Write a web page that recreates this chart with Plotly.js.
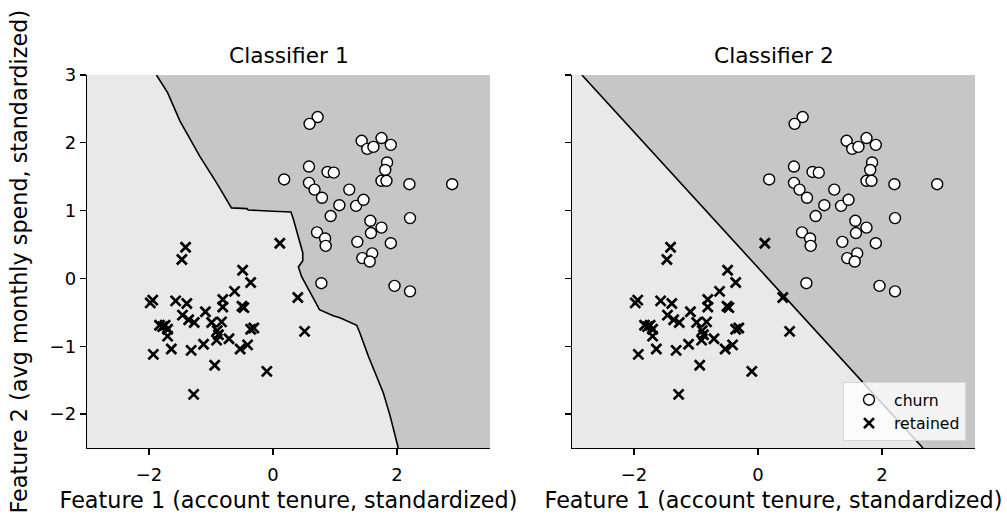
<!DOCTYPE html>
<html>
<head>
<meta charset="utf-8">
<script src="https://cdn.plot.ly/plotly-3.0.1.min.js"></script>
<style>
  html, body { margin: 0; padding: 0; background: #ffffff; }
  #chart { width: 1007px; height: 515px; }
</style>
</head>
<body>
<div id="chart"></div>
<script>
// ---- data ----
const churnX = [0.72, 0.59, 1.43, 1.75, 1.52, 1.62, 1.90, 1.84, 1.81, 1.75, 1.83, 0.58, 0.88, 0.98,
  0.18, 0.58, 0.67, 0.79, 1.23, 1.07, 1.34, 1.46, 2.20, 2.89, 0.93, 1.57, 1.75, 1.58, 2.21, 0.71,
  0.84, 0.85, 1.36, 1.90, 1.44, 1.60, 1.56, 0.78, 1.96, 2.21];
const churnY = [2.38, 2.28, 2.03, 2.07, 1.91, 1.94, 1.97, 1.71, 1.60, 1.44, 1.44, 1.65, 1.57, 1.56,
  1.46, 1.41, 1.31, 1.19, 1.31, 1.08, 1.07, 1.16, 1.39, 1.39, 0.92, 0.85, 0.75, 0.67, 0.89, 0.68,
  0.59, 0.48, 0.54, 0.52, 0.30, 0.37, 0.25, -0.07, -0.11, -0.19];

const retainedX = [-1.41, -1.47, 0.11, -0.49, -0.36, -0.62, 0.40, -1.98, -1.94, -1.57, -1.39, -0.81,
  -0.81, -0.50, -0.47, -1.09, -1.46, -1.36, -1.27, -0.99, -0.83, -1.83, -1.74, -1.70, -1.70, -0.90,
  -0.91, -0.71, -0.36, -0.31, 0.51, -1.64, -1.32, -1.12, -0.53, -0.41, -1.93, -0.94, -0.10, -1.28,
  -0.88, -1.78];
const retainedY = [0.46, 0.28, 0.52, 0.12, -0.06, -0.19, -0.28, -0.36, -0.32, -0.33, -0.37, -0.31,
  -0.42, -0.41, -0.43, -0.49, -0.54, -0.61, -0.65, -0.65, -0.64, -0.69, -0.69, -0.75, -0.85, -0.77,
  -0.91, -0.89, -0.75, -0.73, -0.78, -1.04, -1.06, -0.97, -1.04, -0.98, -1.12, -1.28, -1.37, -1.71,
  -0.83, -0.71];

// decision boundary of classifier 1
const boundary1X = [-1.88, -1.70, -1.50, -1.18, -0.91, -0.67, -0.42, -0.40, 0.00, 0.29, 0.33, 0.41,
  0.48, 0.48, 0.41, 0.46, 0.60, 0.75, 0.97, 1.08, 1.35, 1.40, 1.54, 1.67, 1.78, 1.89, 2.02];
const boundary1Y = [3.00, 2.74, 2.32, 1.80, 1.41, 1.04, 1.03, 1.01, 0.99, 0.98, 0.87, 0.62,
  0.38, 0.26, 0.17, 0.03, -0.21, -0.46, -0.55, -0.58, -0.69, -0.80, -1.15, -1.44, -1.69, -2.03, -2.50];

// decision boundary of classifier 2 (linear)
const boundary2X = [-2.84, 2.66];
const boundary2Y = [3.00, -2.50];

const xRange = [-3, 3.5];
const yRange = [-2.5, 3];
const titles = ['Classifier 1', 'Classifier 2'];
const xTitle = 'Feature 1 (account tenure, standardized)';
const yTitle = 'Feature 2 (avg monthly spend, standardized)';

// ---- styles ----
const LIGHT = 'rgb(233,233,233)';
const DARK = 'rgb(198,198,198)';
const FONT = 'DejaVu Sans, sans-serif';

function regionTraces(bx, by, xa, ya) {
  const px = bx.concat([xRange[1], xRange[1]]);
  const py = by.concat([yRange[0], yRange[1]]);
  return [
    { type: 'scatter', mode: 'lines', x: px, y: py, fill: 'toself', fillcolor: DARK,
      line: { width: 0, color: DARK }, hoverinfo: 'skip', showlegend: false, xaxis: xa, yaxis: ya },
    { type: 'scatter', mode: 'lines', x: bx, y: by, line: { color: 'black', width: 1.6 },
      hoverinfo: 'skip', showlegend: false, xaxis: xa, yaxis: ya }
  ];
}

function pointTraces(xa, ya, legend) {
  return [
    { type: 'scatter', mode: 'markers', name: 'churn', x: churnX, y: churnY, xaxis: xa, yaxis: ya,
      showlegend: legend,
      marker: { symbol: 'circle', size: 11, color: 'white', line: { color: 'black', width: 1.4 } } },
    { type: 'scatter', mode: 'markers', name: 'retained', x: retainedX, y: retainedY, xaxis: xa, yaxis: ya,
      showlegend: legend,
      marker: { symbol: 'x-thin', size: 10, color: 'black', line: { color: 'black', width: 2.7 } } }
  ];
}

const data = [].concat(
  regionTraces(boundary1X, boundary1Y, 'x', 'y'),
  regionTraces(boundary2X, boundary2Y, 'x2', 'y2'),
  pointTraces('x', 'y', false),
  pointTraces('x2', 'y2', true)
);

const W = 1007, H = 515;
const yDom = [(H - 448) / H, (H - 75) / H];

function xAxis(domain) {
  return {
    domain: domain, range: xRange, showgrid: false, zeroline: false,
    showline: true, linecolor: 'black', linewidth: 1.3, mirror: false,
    ticks: 'outside', ticklen: 6, tickwidth: 1.3, tickcolor: 'black', ticklabelstandoff: 4,
    tickvals: [-2, 0, 2], ticktext: ['\u22122', '0', '2'],
    tickfont: { family: FONT, size: 18, color: 'black' },
    title: { text: xTitle, font: { family: FONT, size: 22.3, color: 'black' }, standoff: 8 }
  };
}
function yAxis(anchor, labels) {
  return {
    domain: yDom, range: yRange, anchor: anchor, showgrid: false, zeroline: false,
    showline: true, linecolor: 'black', linewidth: 1.3, mirror: false,
    ticks: 'outside', ticklen: 6, tickwidth: 1.3, tickcolor: 'black',
    tickvals: [-2, -1, 0, 1, 2, 3], ticktext: ['\u22122', '\u22121', '0', '1', '2', '3'],
    showticklabels: labels,
    tickfont: { family: FONT, size: 18, color: 'black' }
  };
}

const annotations = titles.map((t, i) => ({
  text: t, xref: (i === 0 ? 'x' : 'x2') + ' domain', yref: 'paper',
  x: 0.5, y: yDom[1], xanchor: 'center', yanchor: 'bottom', yshift: 5,
  showarrow: false, font: { family: FONT, size: 21.7, color: 'black' }
}));
annotations.push({
  text: yTitle, xref: 'paper', yref: 'paper', x: 18 / W, y: (yDom[0] + yDom[1]) / 2,
  xanchor: 'center', yanchor: 'middle', textangle: -90, showarrow: false,
  font: { family: FONT, size: 22.3, color: 'black' }
});

const layout = {
  width: W, height: H,
  margin: { l: 0, r: 0, t: 0, b: 0 },
  paper_bgcolor: 'white',
  plot_bgcolor: LIGHT,
  font: { family: FONT, color: 'black' },
  xaxis: xAxis([87 / W, 490 / W]),
  yaxis: yAxis('x', true),
  xaxis2: Object.assign(xAxis([572 / W, 975 / W]), { anchor: 'y2' }),
  yaxis2: yAxis('x2', false),
  showlegend: true,
  legend: {
    x: 966 / W, xanchor: 'right', y: (H - 441) / H, yanchor: 'bottom',
    bgcolor: 'rgba(255,255,255,0.8)', bordercolor: 'rgb(215,215,215)', borderwidth: 1,
    font: { family: FONT, size: 15.7, color: 'black' }, tracegroupgap: 0, itemwidth: 40
  },
  annotations: annotations
};

Plotly.newPlot('chart', data, layout, { staticPlot: true, displayModeBar: false });
</script>
</body>
</html>
